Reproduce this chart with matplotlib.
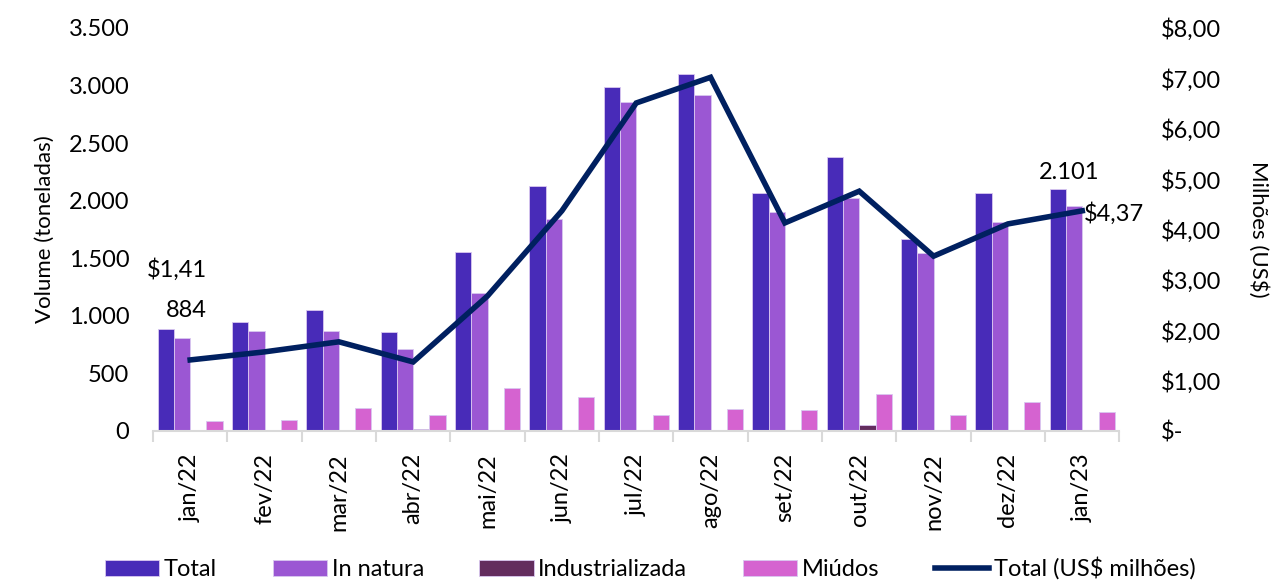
import numpy as np
import matplotlib
matplotlib.use('Agg')
import matplotlib.pyplot as plt
from matplotlib.ticker import FuncFormatter

plt.rcParams['font.family'] = ['Lato', 'DejaVu Sans']

# dados
meses = ['jan/22', 'fev/22', 'mar/22', 'abr/22', 'mai/22', 'jun/22', 'jul/22',
         'ago/22', 'set/22', 'out/22', 'nov/22', 'dez/22', 'jan/23']
total = [884, 947, 1051, 860, 1555, 2128, 2989, 3101, 2068, 2380, 1668, 2068, 2101]
in_natura = [808, 869, 869, 712, 1199, 1842, 2858, 2919, 1903, 2024, 1546, 1816, 1955]
industrializada = [10, 0, 0, 15, 0, 0, 0, 0, 0, 50, 0, 0, 0]
miudos = [87, 96, 200, 139, 374, 295, 139, 191, 182, 321, 139, 252, 165]
total_usd = [1.41, 1.57, 1.77, 1.37, 2.68, 4.37, 6.51, 7.02, 4.13, 4.76, 3.47, 4.11, 4.37]

cores = ['#482BB8', '#9B57D3', '#632D5E', '#D563D0']
cor_linha = '#002060'

fig = plt.figure(figsize=(12.75, 5.82), dpi=100)
ax = fig.add_axes([0.12, 0.2595, 0.758, 0.6925])
ax2 = ax.twinx()

x = np.arange(len(meses))
w = 0.219
series = [('Total', total), ('In natura', in_natura),
          ('Industrializada', industrializada), ('Miúdos', miudos)]
barras = []
for i, (nome, vals) in enumerate(series):
    b = ax.bar(x + (i - 1.5) * w, vals, w, color=cores[i], label=nome,
               edgecolor='#D9C8F0', linewidth=0.6, zorder=2)
    barras.append(b)

linha, = ax2.plot(x, total_usd, color=cor_linha, lw=4, label='Total (US$ milhões)',
                  solid_joinstyle='miter', zorder=3)

ax.set_xlim(-0.5, len(meses) - 0.5)
ax.set_ylim(0, 3500)
ax.set_yticks(np.arange(0, 3501, 500))
ax.yaxis.set_major_formatter(FuncFormatter(lambda v, p: f'{int(v):,}'.replace(',', '.')))
ax2.set_ylim(0, 8)
ax2.set_yticks(np.arange(0, 9, 1))
ax2.yaxis.set_major_formatter(FuncFormatter(lambda v, p: '$-' if v == 0 else f'${v:.2f}'.replace('.', ',')))

ax.set_xticks(x)
ax.set_xticklabels(meses, rotation=90, fontsize=17)
ax.set_xticks(np.arange(-0.5, len(meses), 1), minor=True)
ax.tick_params(axis='x', which='major', length=0, pad=16)
ax.tick_params(axis='x', which='minor', length=8, color='#D9D9D9', width=1.5)
ax.tick_params(axis='y', length=0, labelsize=17, pad=17)
ax2.tick_params(axis='y', length=0, labelsize=17, pad=30)

for a in (ax, ax2):
    for s in ['top', 'left', 'right']:
        a.spines[s].set_visible(False)
ax2.spines['bottom'].set_visible(False)
ax.spines['bottom'].set_color('#D9D9D9')
ax.spines['bottom'].set_linewidth(1.5)

ax.set_ylabel('Volume (toneladas)', fontsize=16, labelpad=10)
ax2.set_ylabel('Milhões (US$)', fontsize=16, rotation=270, labelpad=34)

# rótulos
ax.annotate(f'{total[0]}', (x[0] - 1.5 * w, total[0]), xytext=(0, 6),
            textcoords='offset points', ha='left', va='bottom', fontsize=17)
ax2.annotate(f'${total_usd[0]:.2f}'.replace('.', ','), (x[0], total_usd[0]), xytext=(-31, 57),
             textcoords='offset points', ha='left', va='bottom', fontsize=17)
ax.annotate(f'{total[-1]:,}'.replace(',', '.'), (x[-1] - 1.5 * w, total[-1]), xytext=(-14, 4),
            textcoords='offset points', ha='left', va='bottom', fontsize=17)
ax2.annotate(f'${total_usd[-1]:.2f}'.replace('.', ','), (x[-1], total_usd[-1]), xytext=(1, -2),
             textcoords='offset points', ha='left', va='center', fontsize=17)

fig.legend(barras + [linha], [s[0] for s in series] + ['Total (US$ milhões)'],
           loc='center', bbox_to_anchor=(0.51, 0.023), ncol=5, frameon=False,
           fontsize=17, handlelength=2.3, handleheight=0.7, handletextpad=0.2,
           columnspacing=2.35)

plt.savefig('out.png', dpi=100)
